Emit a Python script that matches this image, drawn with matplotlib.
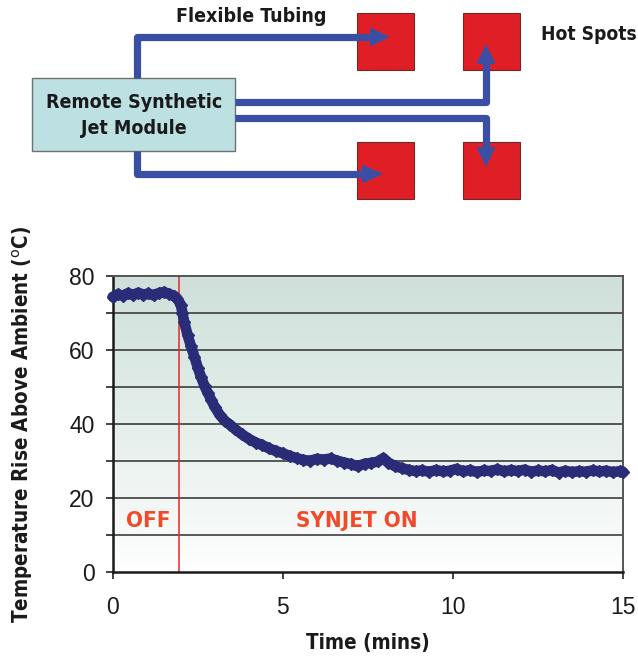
import numpy as np
import matplotlib
matplotlib.use("Agg")
import matplotlib.pyplot as plt
import matplotlib.patches as patches
from matplotlib import font_manager

# temperature trace (minutes, deg C above ambient)
time_min = [0.0, 0.15, 0.3, 0.45, 0.6, 0.75, 0.9, 1.05, 1.2, 1.35, 1.5, 1.65, 1.8, 1.9,
            2.0, 2.05, 2.1, 2.2, 2.3, 2.4, 2.5, 2.6, 2.7, 2.8, 2.9, 3.0, 3.15, 3.3, 3.45,
            3.6, 3.8, 4.0, 4.2, 4.4, 4.6, 4.8, 5.0, 5.2, 5.4, 5.6, 5.8, 6.0, 6.2, 6.4,
            6.6, 6.8, 7.0, 7.2, 7.4, 7.6, 7.8, 7.95, 8.1, 8.3, 8.5, 8.7, 8.9, 9.1, 9.3,
            9.5, 9.7, 9.9, 10.1, 10.3, 10.5, 10.7, 10.9, 11.1, 11.3, 11.5, 11.7, 11.9,
            12.1, 12.3, 12.5, 12.7, 12.9, 13.1, 13.3, 13.5, 13.7, 13.9, 14.1, 14.3,
            14.5, 14.7, 14.9, 15.0]
temp_rise = [74.3, 75.0, 74.6, 75.3, 74.8, 75.4, 74.9, 75.2, 74.7, 75.3, 75.6, 75.1, 74.6, 73.8,
             72.2, 70.0, 67.6, 64.0, 61.0, 58.2, 55.2, 52.6, 50.2, 48.3, 46.4, 44.6, 42.4, 40.8, 39.8,
             38.6, 37.2, 36.0, 35.0, 34.3, 33.4, 32.7, 32.1, 31.4, 30.8, 30.3, 30.1, 30.6, 30.4, 30.7,
             30.1, 29.6, 29.2, 28.6, 29.3, 29.5, 29.9, 30.8, 29.6, 28.6, 28.1, 27.6, 27.3, 27.5, 27.1,
             27.6, 27.2, 27.4, 27.9, 27.2, 27.6, 27.0, 27.5, 27.3, 27.8, 27.2, 27.6, 27.3,
             27.7, 27.1, 27.5, 27.2, 27.6, 26.9, 27.4, 27.0, 27.3, 27.1, 27.5, 27.2,
             27.4, 27.0, 27.3, 27.0]

synjet_on_time = 1.95
x_ticks = [0, 5, 10, 15]
y_ticks = [0, 20, 40, 60, 80]

plt.rcParams['font.family'] = ['Liberation Sans', 'DejaVu Sans']

# condensed bold face for the titles, if the system has one
names = {f.name for f in font_manager.fontManager.ttflist}
cond = {'family': ['DejaVu Sans'], 'fontstretch': 'condensed'}
if 'Liberation Sans Narrow' in names:
    cond = {'family': ['Liberation Sans Narrow', 'DejaVu Sans']}

fig = plt.figure(figsize=(6.38, 6.58), dpi=100)

# ---- diagram on top, drawn in pixel coordinates ----
dg = fig.add_axes([0, 0, 1, 1])
dg.set_xlim(0, 638)
dg.set_ylim(658, 0)
dg.axis('off')

red = '#e01e26'
blue = '#3a4fa3'
for (x0, y0) in [(357, 13), (463, 13), (357, 142), (463, 142)]:
    dg.add_patch(patches.Rectangle((x0, y0), 57, 57, facecolor=red, edgecolor='#6a2a2a', lw=0.8))

dg.add_patch(patches.Rectangle((32, 78), 203, 73, facecolor='#bde0e3', edgecolor='#707070', lw=1.0))
dg.text(134, 102, 'Remote Synthetic', ha='center', va='center', fontsize=14,
        fontweight='bold', color='#1a1a1a', **cond)
dg.text(134, 128, 'Jet Module', ha='center', va='center', fontsize=14,
        fontweight='bold', color='#1a1a1a', **cond)
dg.text(251, 17, 'Flexible Tubing', ha='center', va='center', fontsize=14,
        fontweight='bold', color='#1a1a1a', **cond)
dg.text(541, 34, 'Hot Spots', ha='left', va='center', fontsize=13.8,
        fontweight='bold', color='#1a1a1a', **cond)

paths = [
    ([137, 137, 372], [78, 37, 37]),
    ([235, 486, 486], [102, 102, 63]),
    ([235, 486, 486], [118, 118, 149]),
    ([137, 137, 364], [151, 174, 174]),
]
for xs, ys in paths:
    dg.plot(xs, ys, color=blue, lw=5.2, solid_joinstyle='round', solid_capstyle='butt')
heads = [
    [(370, 27.5), (370, 46.5), (390, 37)],
    [(476.5, 64), (495.5, 64), (486, 44)],
    [(476.5, 147), (495.5, 147), (486, 167)],
    [(362, 164.5), (362, 183.5), (383, 174)],
]
for pts in heads:
    dg.add_patch(patches.Polygon(pts, closed=True, facecolor=blue, edgecolor='none'))

# ---- temperature chart ----
ax = fig.add_axes([0.1766, 0.1302, 0.8004, 0.4508])
ax.set_xlim(0, 15)
ax.set_ylim(0, 80)

grad = np.linspace(0, 1, 256).reshape(-1, 1)
top_c = np.array([0.807, 0.878, 0.851])
bot_c = np.array([1.0, 1.0, 1.0])
img = bot_c + (top_c - bot_c) * grad[..., None] ** 0.9
ax.imshow(img, extent=[0, 1, 0, 1], transform=ax.transAxes, origin='lower',
          aspect='auto', zorder=0)

for yv in range(10, 80, 10):
    ax.axhline(yv, color='#4a4a4a', lw=1.3, zorder=1)

ax.axvline(synjet_on_time, color='#e8262a', lw=1.1, zorder=2)

ax.plot(time_min, temp_rise, color='#2a2c78', lw=7.6, marker='D', ms=6.0,
        solid_joinstyle='round', solid_capstyle='round', zorder=3, clip_on=False)

ax.text(1.04, 13.8, 'OFF', ha='center', va='center', fontsize=16, fontweight='bold',
        color='#f04a2a', zorder=4, **cond)
ax.text(7.18, 13.8, 'SYNJET ON', ha='center', va='center', fontsize=16, fontweight='bold',
        color='#f04a2a', zorder=4, **cond)

ax.set_xticks(x_ticks)
ax.set_yticks(y_ticks)
ax.set_yticks(range(10, 80, 20), minor=True)
ax.tick_params(axis='both', which='both', direction='out', length=5, width=1.2,
               color='#222222', labelsize=16.5, labelcolor='#1a1a1a')
ax.tick_params(axis='y', pad=8)
ax.tick_params(axis='x', pad=12)

for side in ['left', 'bottom']:
    ax.spines[side].set_color('#1a1a1a')
    ax.spines[side].set_linewidth(1.8)
for side in ['top', 'right']:
    ax.spines[side].set_color('#555555')
    ax.spines[side].set_linewidth(1.4)

ax.set_xlabel('Time (mins)', fontsize=14.8, fontweight='bold', color='#1a1a1a', **cond)
ax.xaxis.set_label_coords(0.5, -0.205)
ax.set_ylabel('Temperature Rise Above Ambient ($^{\\rm o}$C)', fontsize=14.8,
              fontweight='bold', color='#1a1a1a', **cond)
ax.yaxis.set_label_coords(-0.152, 0.5)

fig.savefig('out.png', dpi=100)
